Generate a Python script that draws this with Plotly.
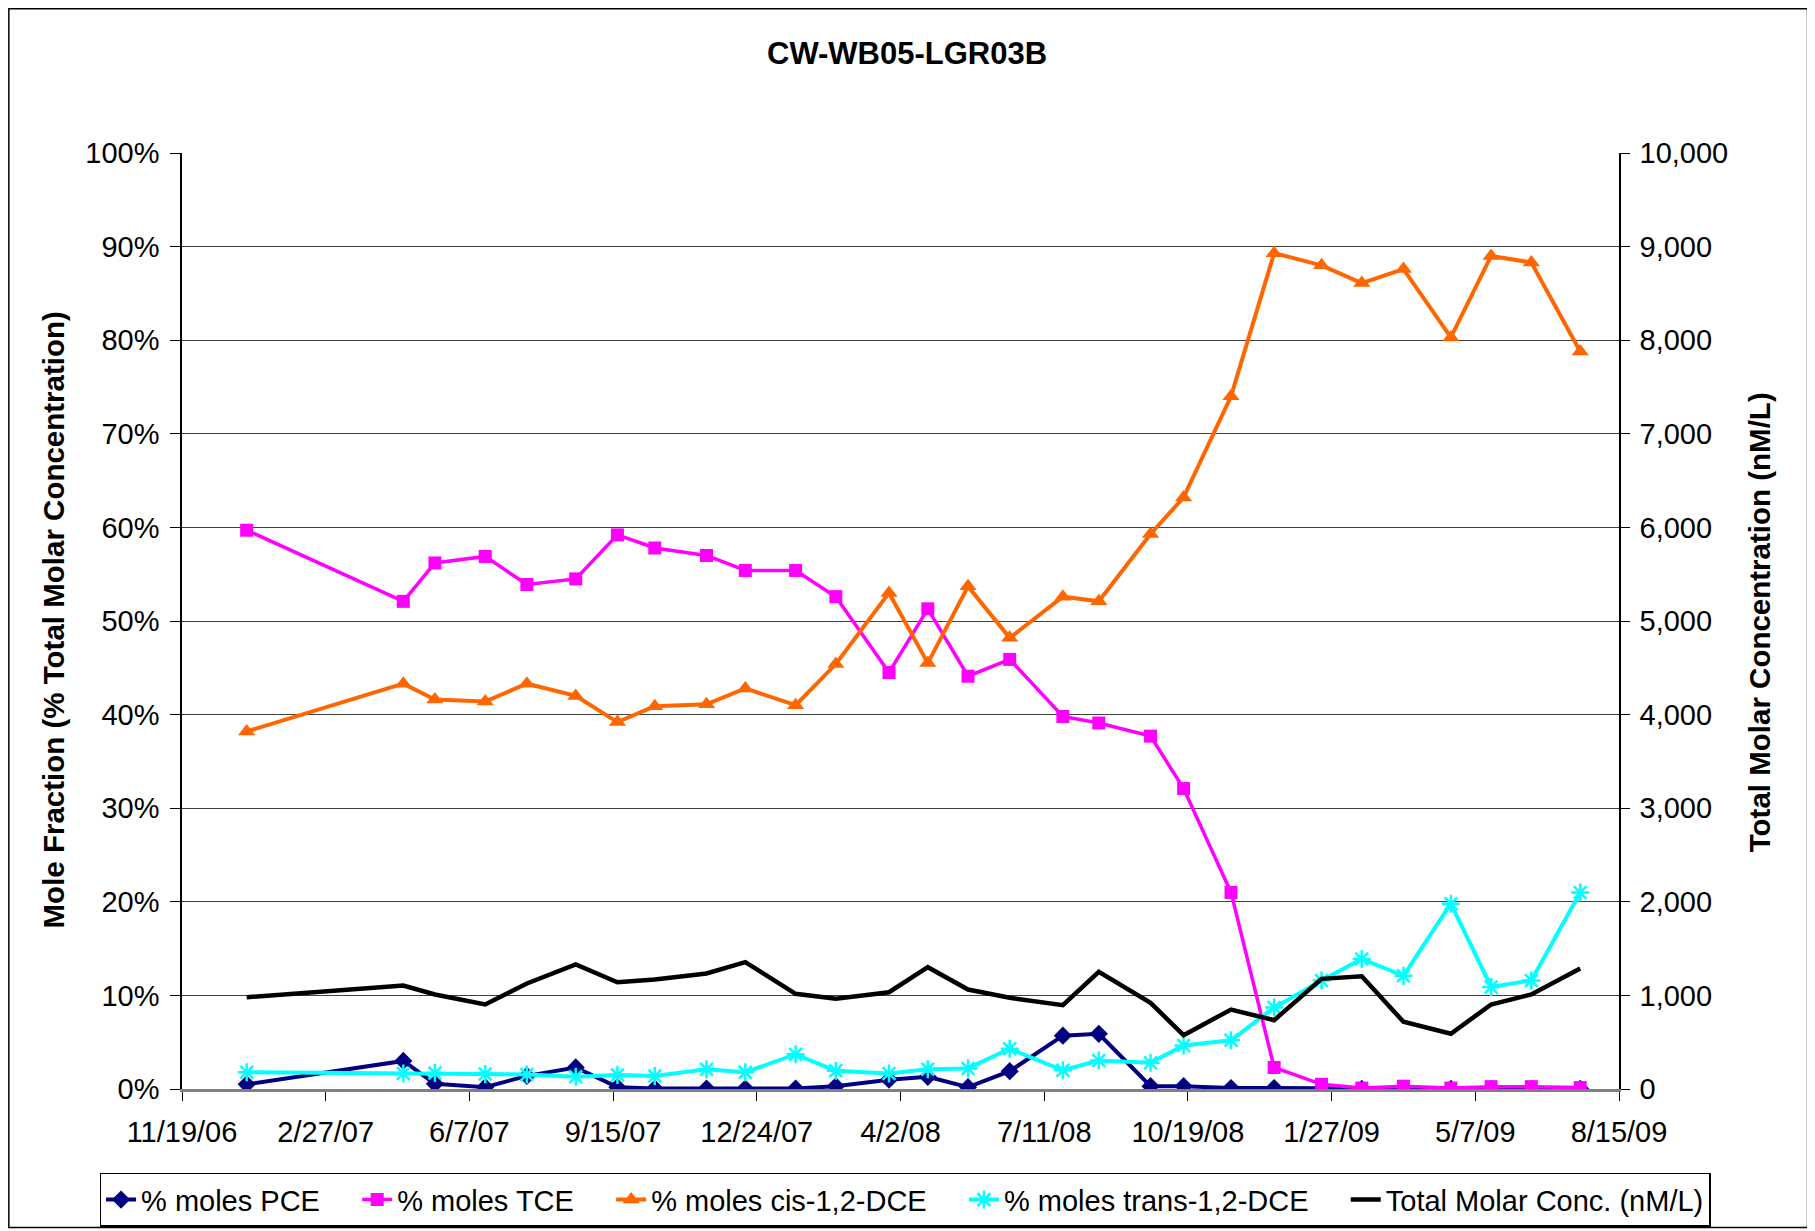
import plotly.graph_objects as go

dates = ['2007-01-03', '2007-04-22', '2007-05-14', '2007-06-18', '2007-07-17', '2007-08-20',
         '2007-09-18', '2007-10-14', '2007-11-19', '2007-12-16', '2008-01-20', '2008-02-17',
         '2008-03-25', '2008-04-21', '2008-05-19', '2008-06-17', '2008-07-24', '2008-08-18',
         '2008-09-23', '2008-10-16', '2008-11-18', '2008-12-18', '2009-01-20', '2009-02-17',
         '2009-03-18', '2009-04-20', '2009-05-18', '2009-06-15', '2009-07-19']

pce = [0.5, 3.0, 0.55, 0.2, 1.4, 2.3, 0.2, 0.05, 0.05, 0.05, 0.05, 0.3, 1.0, 1.3, 0.2, 1.9,
       5.7, 5.9, 0.3, 0.3, 0.1, 0.1, 0.05, 0.02, 0.02, 0.02, 0.02, 0.02, 0.02]
tce = [59.7, 52.1, 56.2, 56.9, 53.9, 54.5, 59.2, 57.8, 57.0, 55.4, 55.4, 52.6, 44.5, 51.3, 44.1, 45.9,
       39.8, 39.1, 37.7, 32.1, 21.0, 2.3, 0.5, 0.1, 0.3, 0.1, 0.25, 0.25, 0.15]
cis = [38.2, 43.3, 41.6, 41.4, 43.3, 42.0, 39.2, 40.9, 41.1, 42.8, 41.0, 45.4, 53.0, 45.5, 53.7, 48.2,
       52.6, 52.1, 59.3, 63.2, 74.0, 89.3, 88.0, 86.1, 87.6, 80.3, 89.0, 88.3, 78.8]
trans = [1.8, 1.65, 1.7, 1.6, 1.55, 1.3, 1.5, 1.4, 2.1, 1.8, 3.7, 1.95, 1.65, 2.1, 2.2, 4.3,
         2.0, 3.05, 2.8, 4.65, 5.2, 8.7, 11.6, 13.9, 12.1, 19.8, 10.9, 11.6, 21.0]
total = [980, 1106, 1010, 903, 1127, 1330, 1141, 1170, 1234, 1355, 1017, 964, 1034, 1301, 1063, 974,
         895, 1252, 921, 575, 849, 735, 1177, 1205, 718, 590, 903, 1010, 1287]

x_tick_vals = ['2006-11-19', '2007-02-27', '2007-06-07', '2007-09-15', '2007-12-24', '2008-04-02',
               '2008-07-11', '2008-10-19', '2009-01-27', '2009-05-07', '2009-08-15']
x_tick_text = ['11/19/06', '2/27/07', '6/7/07', '9/15/07', '12/24/07', '4/2/08',
               '7/11/08', '10/19/08', '1/27/09', '5/7/09', '8/15/09']
y_tick_vals = [0, 10, 20, 30, 40, 50, 60, 70, 80, 90, 100]
y_tick_text = ['0%', '10%', '20%', '30%', '40%', '50%', '60%', '70%', '80%', '90%', '100%']
y2_tick_vals = [0, 1000, 2000, 3000, 4000, 5000, 6000, 7000, 8000, 9000, 10000]

FONT = 'Liberation Sans, Arial, sans-serif'
PAD = '\u00a0' * 4

fig = go.Figure()
fig.add_trace(go.Scatter(x=dates, y=pce, name='% moles PCE' + PAD, mode='lines+markers',
                         line=dict(color='#000080', width=4),
                         marker=dict(symbol='diamond', size=14, color='#000080')))
fig.add_trace(go.Scatter(x=dates, y=tce, name='% moles TCE' + PAD, mode='lines+markers',
                         line=dict(color='#FF00FF', width=3.5),
                         marker=dict(symbol='square', size=13, color='#FF00FF')))
fig.add_trace(go.Scatter(x=dates, y=cis, name='% moles cis-1,2-DCE' + PAD, mode='lines+markers',
                         line=dict(color='#FF6600', width=4),
                         marker=dict(symbol='triangle-up', size=15, color='#FF6600')))
fig.add_trace(go.Scatter(x=dates, y=trans, name='% moles trans-1,2-DCE' + PAD, mode='lines+markers',
                         line=dict(color='#00FFFF', width=4),
                         marker=dict(symbol='asterisk-open', size=15, color='#00FFFF',
                                     line=dict(color='#00FFFF', width=2.5))))
fig.add_trace(go.Scatter(x=dates, y=total, name='Total Molar Conc. (nM/L)', mode='lines',
                         line=dict(color='#000000', width=4.5), yaxis='y2'))

fig.update_layout(
    width=1807, height=1223,
    margin=dict(l=174, r=196, t=145, b=142, autoexpand=False),
    paper_bgcolor='white', plot_bgcolor='white',
    font=dict(family=FONT, size=29, color='black'),
    showlegend=True,
    legend=dict(orientation='h', xref='paper', yref='paper',
                x=1.0637, xanchor='right', y=-0.0895, yanchor='top',
                bordercolor='black', borderwidth=1.5, font=dict(size=29),
                traceorder='normal', itemwidth=30, tracegroupgap=0),
    xaxis=dict(type='date', range=['2006-11-19', '2009-08-15'],
               tickvals=x_tick_vals, ticktext=x_tick_text,
               showgrid=False, showline=True, linecolor='#808080', linewidth=2.5,
               ticks='outside', ticklen=9, tickcolor='black', tickwidth=1,
               ticklabelstandoff=6, zeroline=False),
    yaxis=dict(range=[0, 100], tickvals=y_tick_vals, ticktext=y_tick_text,
               showgrid=True, gridcolor='#404040', gridwidth=1,
               showline=True, linecolor='black', linewidth=1.5,
               ticks='outside', ticklen=10, tickcolor='black', zeroline=False,
               ticklabelstandoff=5),
    yaxis2=dict(range=[0, 10000], tickvals=y2_tick_vals,
                tickformat=',', overlaying='y', side='right', showgrid=False,
                showline=True, linecolor='black', linewidth=1.5,
                ticks='outside', ticklen=9, tickcolor='black', zeroline=False,
                ticklabelstandoff=4),
    annotations=[
        dict(text='<b>CW-WB05-LGR03B</b>', xref='paper', yref='paper', x=0.5047, y=1.106,
             xanchor='center', yanchor='middle', showarrow=False, font=dict(size=31)),
        dict(text='<b>Mole Fraction (% Total Molar Concentration)</b>', xref='paper', yref='paper',
             x=-0.0895, y=0.501, xanchor='center', yanchor='middle', textangle=-90,
             showarrow=False, font=dict(size=29.5)),
        dict(text='<b>Total Molar Concentration (nM/L)</b>', xref='paper', yref='paper',
             x=1.0975, y=0.4988, xanchor='center', yanchor='middle', textangle=-90,
             showarrow=False, font=dict(size=29.5)),
    ],
    shapes=[dict(type='rect', xref='paper', yref='paper', x0=-0.1205, x1=1.1312, y0=-0.148, y1=1.1540,
                 line=dict(color='black', width=1.5), fillcolor='rgba(0,0,0,0)')],
)

fig.write_html('out.html')
